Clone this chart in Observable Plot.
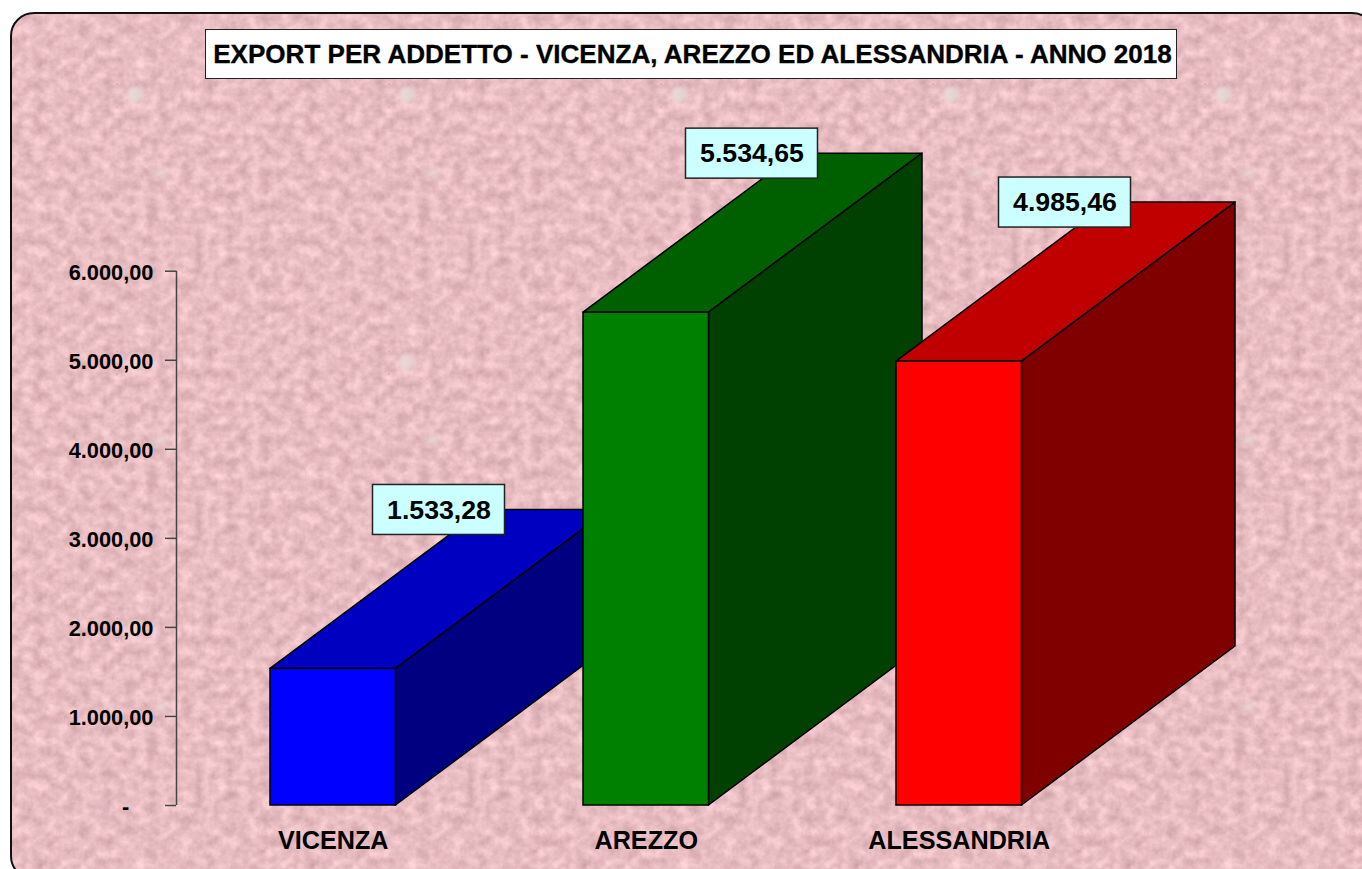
<!DOCTYPE html>
<html>
<head>
<meta charset="utf-8">
<script src="https://cdn.jsdelivr.net/npm/d3@7"></script>
<script src="https://cdn.jsdelivr.net/npm/@observablehq/plot@0.6"></script>
<style>
  html, body { margin: 0; padding: 0; background: #fff; overflow: hidden; }
  #stage { position: relative; width: 1362px; height: 869px; overflow: hidden; font-family: "Liberation Sans", Arial, sans-serif; }
  #panel { position: absolute; left: 10px; top: 12px; width: 1366px; height: 868px; box-sizing: border-box;
           border: 2px solid #111; border-radius: 24px; background-color: #e8bcc0; background-position: -1px -1px; }
  #title { position: absolute; left: 205px; top: 29px; width: 972px; height: 50px; box-sizing: border-box; z-index: 2;
           padding-left: 3px; background: #fff; border: 1.5px solid #222; color: #000; font-weight: bold; font-size: 26.05px;
           line-height: 49px; text-align: center; white-space: nowrap; }
  #chart { position: absolute; left: 0; top: 0; z-index: 1; }
  #chart svg { background: transparent; display: block; }
  #chart text, #title { -webkit-text-stroke: 0.35px #000; }
</style>
</head>
<body>
<div id="stage">
  <div id="panel"></div>
  <div id="title">EXPORT PER ADDETTO - VICENZA, AREZZO ED ALESSANDRIA - ANNO 2018</div>
  <div id="chart"></div>
</div>
<script>
// ---- data ----
const categories = ["VICENZA", "AREZZO", "ALESSANDRIA"];
const exportValues = [1533.28, 5534.65, 4985.46];
const frontColors = ["#0000ff", "#008000", "#ff0000"];
const sideColors = ["#000080", "#004000", "#800000"];
const topColors = ["#0000c0", "#006000", "#c00000"];
const yTicks = [0, 1000, 2000, 3000, 4000, 5000, 6000];

// ---- 3-D projection, in scale units ----
const slotPx = 313;
const barW = 125.5 / slotPx;
const depthX = 213.5 / slotPx;
const valuePerPx = 6000 / 534.3;
const depthY = 159 * valuePerPx;
const boxW = 132 / slotPx;
const boxH = 50 * valuePerPx;
const boxOffset = 102.5 / slotPx;
const axisX0 = -94 / slotPx;
const tickLen = 11 / slotPx;

// ---- paper texture ----
const tile = `<svg xmlns="http://www.w3.org/2000/svg" width="272" height="267">
<defs>
<filter id="n" x="0" y="0" width="100%" height="100%" color-interpolation-filters="sRGB">
<feTurbulence type="fractalNoise" baseFrequency="0.09" numOctaves="5" seed="11" stitchTiles="stitch"/>
<feColorMatrix type="matrix" values="0.24 0 0 0 0.79  0.24 0 0 0 0.62  0.24 0 0 0 0.64  0 0 0 0 1"/>
<feGaussianBlur stdDeviation="0.7" edgeMode="wrap"/>
</filter>
<filter id="b"><feGaussianBlur stdDeviation="2.2"/></filter>
</defs>
<rect width="272" height="267" filter="url(#n)"/>
<g filter="url(#b)" fill="#e9dcd8" fill-opacity="0.8">
<circle cx="124" cy="82" r="8"/>
<ellipse cx="150" cy="160" rx="10" ry="6" fill-opacity="0.35"/>
</g>
<g fill="#d99aa4" fill-opacity="0.5"><circle cx="106" cy="71" r="1.2"/><circle cx="106" cy="94" r="1.2"/></g>
</svg>`;
document.getElementById("panel").style.backgroundImage =
  "url('data:image/svg+xml," + encodeURIComponent(tile).replace(/'/g, "%27") + "')";

// ---- derived tables ----
const fmt = d3.formatLocale({decimal: ",", thousands: ".", grouping: [3], currency: ["", ""]}).format(",.2f");
const bars = categories.map((name, i) => ({name, i, value: exportValues[i],
  front: frontColors[i], side: sideColors[i], top: topColors[i]}));

const barMarks = bars.flatMap(b => [
  Plot.areaX([
    {y: b.value, x1: b.i, x2: b.i + barW},
    {y: b.value + depthY, x1: b.i + depthX, x2: b.i + barW + depthX}
  ], {y: "y", x1: "x1", x2: "x2", fill: b.top, stroke: "#000", strokeWidth: 1.5}),
  Plot.areaY([
    {x: b.i + barW, y1: 0, y2: b.value},
    {x: b.i + barW + depthX, y1: depthY, y2: b.value + depthY}
  ], {x: "x", y1: "y1", y2: "y2", fill: b.side, stroke: "#000", strokeWidth: 1.5}),
  Plot.rect([b], {x1: d => d.i, x2: d => d.i + barW, y1: 0, y2: d => d.value,
    fill: b.front, stroke: "#000", strokeWidth: 1.5})
]);

const boxY = d => d.value + depthY;
const plot = Plot.plot({
  width: 1362, height: 869,
  marginTop: 270.7, marginBottom: 64, marginLeft: 176, marginRight: 0,
  style: {fontFamily: "'Liberation Sans', Arial, sans-serif", background: "transparent", color: "#000"},
  x: {type: "linear", domain: [axisX0, 1092 / slotPx], axis: null},
  y: {type: "linear", domain: [0, 6000], axis: null},
  marks: [
    Plot.ruleX([axisX0], {y1: 0, y2: 6000, stroke: "#444", strokeWidth: 1.5}),
    Plot.ruleY(yTicks, {x1: axisX0 - tickLen, x2: axisX0, stroke: "#444", strokeWidth: 1.5}),
    Plot.axisY({
      anchor: "left", ticks: yTicks, tickSize: 0, tickPadding: 23, fill: "#000", dy: 1.5,
      tickFormat: d => d === 0 ? "-\u00a0\u00a0\u00a0\u00a0" : fmt(d),
      fontSize: 21.8, fontWeight: "bold", label: null
    }),
    ...barMarks,
    Plot.axisX({
      anchor: "bottom", ticks: categories.map((c, i) => i + barW / 2), tickSize: 0, tickPadding: 25.5,
      tickFormat: d => categories[Math.round(d - barW / 2)],
      fontSize: 25.2, fontWeight: "bold", label: null, fill: "#000"
    }),
    Plot.rect(bars, {
      x1: d => d.i + boxOffset, x2: d => d.i + boxOffset + boxW,
      y1: d => boxY(d) - boxH / 2, y2: d => boxY(d) + boxH / 2,
      fill: "#ccffff", stroke: "#222", strokeWidth: 1.5
    }),
    Plot.text(bars, {
      x: d => d.i + boxOffset + boxW / 2, y: boxY, text: d => fmt(d.value),
      fontSize: 26.7, fontWeight: "bold", fill: "#000"
    })
  ]
});
document.getElementById("chart").appendChild(plot);
</script>
</body>
</html>
